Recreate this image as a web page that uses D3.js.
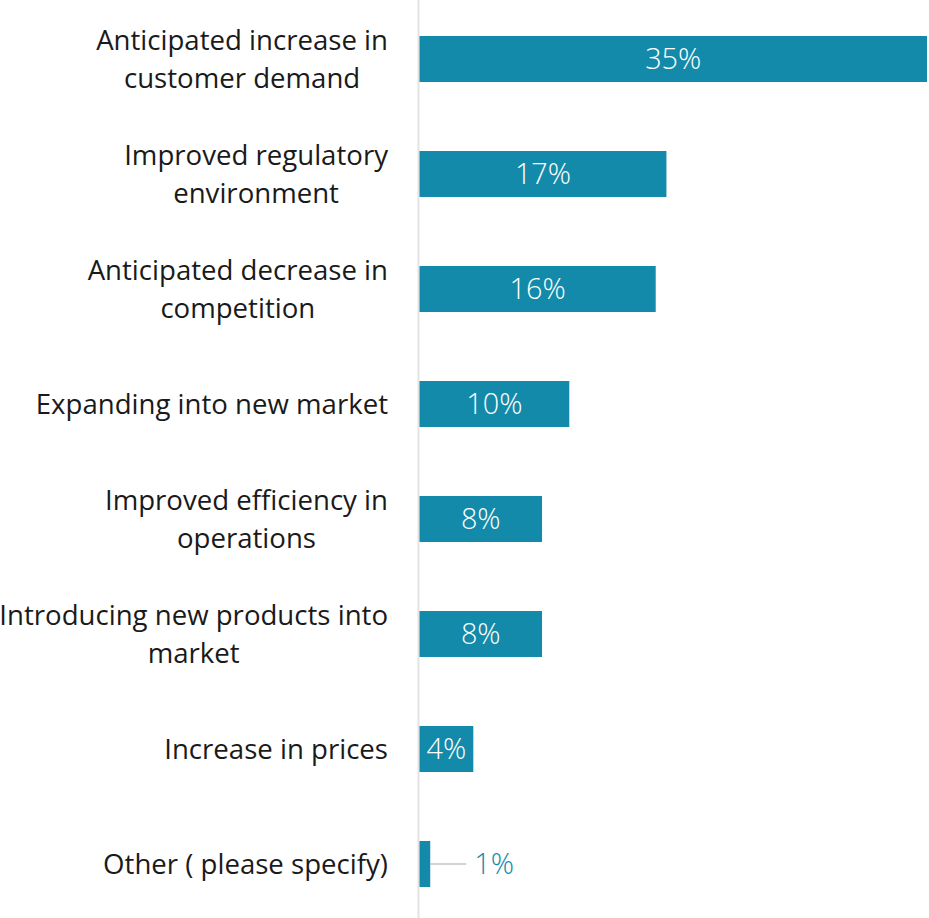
<!DOCTYPE html>
<html>
<head>
<meta charset="utf-8">
<script src="https://cdn.jsdelivr.net/npm/d3@7"></script>
<style>
  html, body { margin: 0; padding: 0; background: #ffffff; }
  svg { display: block; }
</style>
</head>
<body>
<script>
const categories = [
  "Anticipated increase in\ncustomer demand",
  "Improved regulatory\nenvironment",
  "Anticipated decrease in\ncompetition",
  "Expanding into new market",
  "Improved efficiency in\noperations",
  "Introducing new products into\nmarket",
  "Increase in prices",
  "Other ( please specify)"
];
const values = [35, 17.03, 16.29, 10.33, 8.45, 8.45, 3.71, 0.74];
const valueLabels = ["35%", "17%", "16%", "10%", "8%", "8%", "4%", "1%"];

const W = 929, H = 918;
const barColor = "#138aa9";
const fontFam = "'Open Sans', 'Noto Sans', sans-serif";
const fs = 27.6;
const vfs = 28.8;

const svg = d3.select("body").append("svg").attr("width", W).attr("height", H);

const y = d3.scaleBand().domain(categories).range([1.5, 921.5]).paddingInner(0.6).paddingOuter(0.3);
const x = d3.scaleLinear().domain([0, 35]).range([419.5, 927]);

// axis line
svg.append("line")
  .attr("x1", 418.5).attr("x2", 418.5).attr("y1", 0).attr("y2", H)
  .attr("stroke", "#e3e3e3").attr("stroke-width", 2);

// bars
svg.selectAll("rect.bar").data(values).enter().append("rect")
  .attr("class", "bar")
  .attr("x", x(0))
  .attr("y", (d, i) => y(categories[i]))
  .attr("width", d => x(d) - x(0))
  .attr("height", y.bandwidth())
  .attr("fill", barColor);

// category labels (block right-aligned at 388, lines centered within block)
const labels = svg.selectAll("text.cat").data(categories).enter().append("text")
  .attr("class", "cat")
  .attr("text-anchor", "middle")
  .attr("font-family", fontFam)
  .attr("font-weight", 400)
  .attr("font-size", fs)
  .attr("fill", "#1a1a1a");
labels.each(function(d) {
  const lines = d.split("\n");
  const cy = y(d) + y.bandwidth() / 2;
  const lh = 38;
  const start = cy - (lines.length - 1) * lh / 2;
  const t = d3.select(this);
  const spans = lines.map((ln, k) =>
    t.append("tspan").attr("y", start + k * lh).attr("dy", "0.35em").text(ln));
  const maxW = d3.max(spans, s => s.node().getComputedTextLength());
  spans.forEach(s => s.attr("x", 388 - maxW / 2));
});

// value labels
values.forEach((v, i) => {
  const cy = y(categories[i]) + y.bandwidth() / 2;
  const w = x(v) - x(0);
  if (w > 40) {
    svg.append("text")
      .attr("x", x(0) + w / 2).attr("y", cy).attr("dy", "0.35em")
      .attr("text-anchor", "middle")
      .attr("font-family", fontFam).attr("font-weight", 300).attr("font-size", vfs)
      .attr("fill", "#ffffff")
      .text(valueLabels[i]);
  } else {
    svg.append("line")
      .attr("x1", x(v)).attr("x2", x(v) + 36).attr("y1", cy).attr("y2", cy)
      .attr("stroke", "#c4c4c4").attr("stroke-width", 1.5);
    svg.append("text")
      .attr("x", x(v) + 44).attr("y", cy).attr("dy", "0.35em")
      .attr("text-anchor", "start")
      .attr("font-family", fontFam).attr("font-weight", 300).attr("font-size", vfs)
      .attr("fill", barColor)
      .text(valueLabels[i]);
  }
});
</script>
</body>
</html>
